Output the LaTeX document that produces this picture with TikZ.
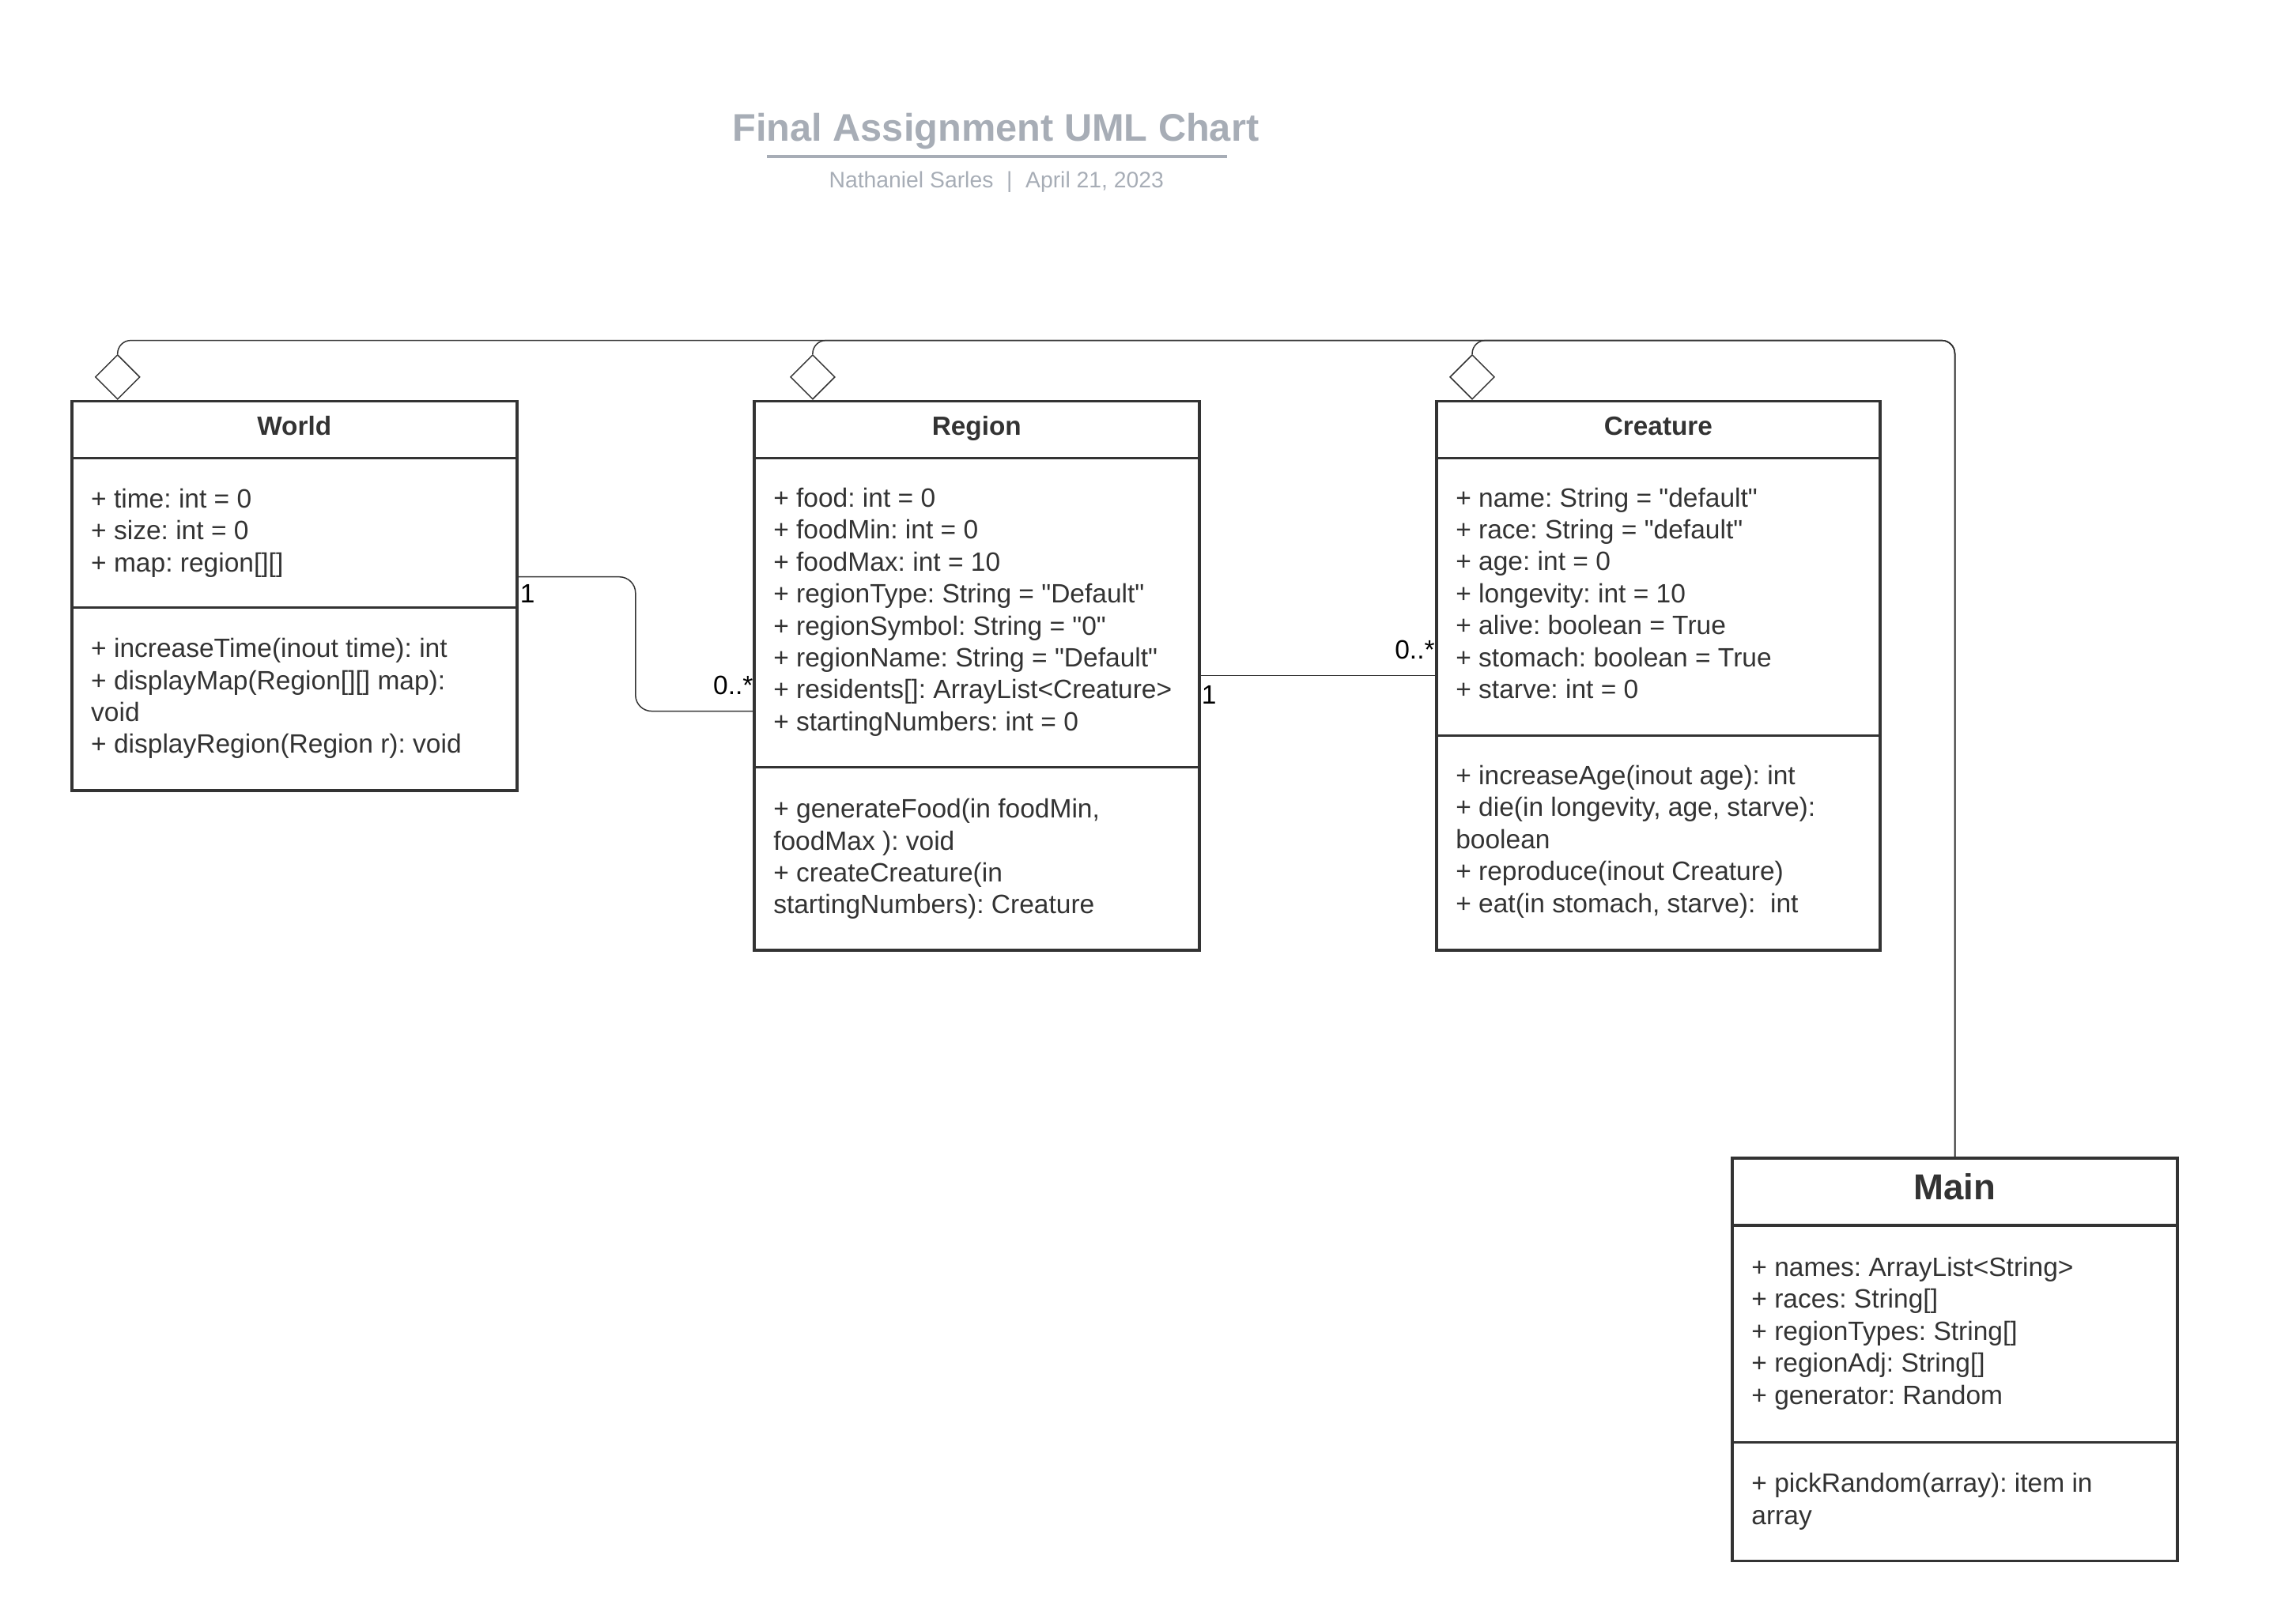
\documentclass[tikz,border=0pt]{standalone}
\usepackage{fontspec}
\setmainfont{Liberation Sans}
\newfontfamily\lib{Liberation Sans}
\usetikzlibrary{shapes.geometric,calc}
\definecolor{txt}{HTML}{333333}
\definecolor{edge}{HTML}{333333}
\definecolor{titlegray}{HTML}{A7ADB6}
\newcommand{\bodyfont}{\lib\frenchspacing\fontsize{18.1}{21.85}\selectfont}
\tikzset{
  classbox/.style={draw=edge, line width=1.9pt, rectangle, anchor=north west, inner sep=0, outer sep=0, minimum width=304pt},
  divider/.style={draw=edge, line width=1.9pt},
  clsname/.style={anchor=base, inner sep=0, text=txt, font=\lib\fontsize{18}{21}\selectfont\bfseries},
  blk/.style={anchor=north west, inner sep=0, align=left, text=txt, font=\bodyfont, yshift=15.295pt},
  conn/.style={draw=edge, line width=0.8pt, rounded corners=9pt},
  agg/.style={draw=edge, line width=0.8pt, diamond, fill=white, inner sep=0, minimum width=30.5pt, minimum height=30.5pt},
  mult/.style={inner sep=0, text=black, font=\bodyfont},
}
\begin{document}
\begin{tikzpicture}[x=1pt,y=-1pt]
\useasboundingbox (0,0) rectangle (1568,1108.5);
% title
\node[anchor=base, inner sep=0, text=titlegray, font=\lib\fontsize{26.3}{30}\selectfont\bfseries] (title) at (680,96.4) {Final Assignment UML Chart};
\draw[titlegray, line width=2.5pt] (524,107) -- (838,107);
\node[anchor=base, inner sep=0, text=titlegray, font=\lib\fontsize{15.3}{18}\selectfont] (subtitle) at (680.5,128.5) {Nathaniel Sarles\hspace{9pt}|\hspace{9pt}April 21, 2023};

% World
\node[classbox, minimum height=266pt] (world) at (49,274) {};
\draw[divider] (49,313) -- (353,313);
\draw[divider] (49,415) -- (353,415);
\node[clsname] (worldname) at (201,297.4) {World};
\node[blk] (worldattr) at (62,346.6) {\strut+ time: int = 0\\+ size: int = 0\\+ map: region[][]};
\node[blk] (worldops) at (62,448.8) {\strut+ increaseTime(inout time): int\\+ displayMap(Region[][] map):\\void\\+ displayRegion(Region r): void};

% Region
\node[classbox, minimum height=375pt] (region) at (515,274) {};
\draw[divider] (515,313) -- (819,313);
\draw[divider] (515,524) -- (819,524);
\node[clsname] (regionname) at (667,297.4) {Region};
\node[blk] (regionattr) at (528,346) {\strut+ food: int = 0\\+ foodMin: int = 0\\+ foodMax: int = 10\\+ regionType: String = "Default"\\+ regionSymbol: String = "0"\\+ regionName: String = "Default"\\+ residents[]: ArrayList<Creature>\\+ startingNumbers: int = 0};
\node[blk] (regionops) at (528,558.4) {\strut+ generateFood(in foodMin,\\foodMax ): void\\+ createCreature(in\\startingNumbers): Creature};

% Creature
\node[classbox, minimum height=375pt, minimum width=303pt] (creature) at (981,274) {};
\draw[divider] (981,313) -- (1284,313);
\draw[divider] (981,502.5) -- (1284,502.5);
\node[clsname] (creaturename) at (1132.5,297.4) {Creature};
\node[blk] (creatureattr) at (994,345.9) {\strut+ name: String = "default"\\+ race: String = "default"\\+ age: int = 0\\+ longevity: int = 10\\+ alive: boolean = True\\+ stomach: boolean = True\\+ starve: int = 0};
\node[blk] (creatureops) at (994,535.6) {\strut+ increaseAge(inout age): int\\+ die(in longevity, age, starve):\\boolean\\+ reproduce(inout Creature)\\+ eat(in stomach, starve):~~int};

% Main
\node[classbox, minimum height=275pt] (main) at (1183,791) {};
\draw[divider] (1183,837) -- (1487,837);
\draw[divider] (1183,985) -- (1487,985);
\node[clsname, font=\lib\fontsize{24.6}{28}\selectfont\bfseries] (mainname) at (1335,819.5) {Main};
\node[blk] (mainattr) at (1196,871.5) {\strut+ names: ArrayList<String>\\+ races: String[]\\+ regionTypes: String[]\\+ regionAdj: String[]\\+ generator: Random};
\node[blk] (mainops) at (1196,1019) {\strut+ pickRandom(array): item in\\array};

% aggregation diamonds
\node[agg] (dworld) at (80.3,257.5) {};
\node[agg] (dregion) at (555,257.5) {};
\node[agg] (dcreature) at (1005.4,257.5) {};

% aggregation connectors from Main
\coordinate (topright) at (main.north |- 0,232.5);
\draw[conn] (main.north) -- (topright) -- (dworld.north |- 0,232.5) -- (dworld.north);
\draw[conn] (main.north) -- (topright) -- (dregion.north |- 0,232.5) -- (dregion.north);
\draw[conn] (main.north) -- (topright) -- (dcreature.north |- 0,232.5) -- (dcreature.north);

% World - Region association
\coordinate (wr1) at (world.east |- 0,394);
\coordinate (wr2) at (region.west |- 0,485.7);
\draw[conn, rounded corners=11pt] (wr1) -- (434,394) -- (434,485.7) -- (wr2);
\node[mult, anchor=west] (m1) at (355,405.5) {1};
\node[mult, anchor=east] (m2) at (514.5,468) {0..*};

% Region - Creature association
\coordinate (rc1) at (region.east |- 0,461.5);
\coordinate (rc2) at (creature.west |- 0,461.5);
\draw[conn] (rc1) -- (rc2);
\node[mult, anchor=west] (m3) at (820.5,474.8) {1};
\node[mult, anchor=east] (m4) at (980,444) {0..*};
\end{tikzpicture}
\end{document}
